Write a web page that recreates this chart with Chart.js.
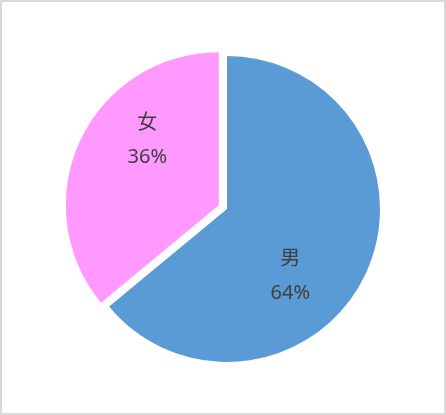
<!DOCTYPE html>
<html>
<head>
<meta charset="utf-8">
<script src="https://cdn.jsdelivr.net/npm/chart.js@4"></script>
<style>
  html, body { margin: 0; padding: 0; background: #fff; }
  #wrap { position: relative; width: 446px; height: 415px; }
  #frame { position: absolute; left: 0; top: 0; right: 0; bottom: 0; border: 2px solid #d9d9d9; pointer-events: none; }
</style>
</head>
<body>
<div id="wrap">
  <canvas id="pieChart" width="446" height="415"></canvas>
  <div id="frame"></div>
</div>
<script>
// data
const labels = ['男', '女'];
const values = [64, 36];
const colors = ['#5B9BD5', '#FF99FF'];

// pulls one slice out along its mid angle, keeping its radius
const explodePlugin = {
    id: 'explode',
    afterDatasetUpdate(chart, args, opts) {
        const arc = chart.getDatasetMeta(args.index).data[opts.index];
        if (!arc) return;
        const mid = (arc.startAngle + arc.endAngle) / 2;
        arc.x += Math.cos(mid) * opts.distance;
        arc.y += Math.sin(mid) * opts.distance;
    }
};

// two-line label (name + percent) inside each slice
const sliceLabels = {
    id: 'sliceLabels',
    afterDatasetsDraw(chart, args, opts) {
        const ctx = chart.ctx;
        const data = chart.data.datasets[0].data;
        const total = data.reduce((a, b) => a + b, 0);
        chart.getDatasetMeta(0).data.forEach((arc, i) => {
            const p = opts.pos[i];
            const a = arc.startAngle + (arc.endAngle - arc.startAngle) * p.t;
            const x = arc.x + Math.cos(a) * arc.outerRadius * p.f;
            const y = arc.y + Math.sin(a) * arc.outerRadius * p.f + 3;
            ctx.save();
            ctx.fillStyle = '#404040';
            ctx.font = '20px "Noto Sans", "Noto Sans CJK JP", sans-serif';
            ctx.textAlign = 'center';
            ctx.textBaseline = 'middle';
            ctx.fillText(chart.data.labels[i], x, y - 17);
            ctx.fillText(Math.round(data[i] / total * 100) + '%', x, y + 17);
            ctx.restore();
        });
    }
};

const ctx = document.getElementById('pieChart').getContext('2d');
new Chart(ctx, {
    type: 'pie',
    data: {
        labels: labels,
        datasets: [{
            data: values,
            backgroundColor: colors,
            borderWidth: 0
        }]
    },
    options: {
        responsive: false,
        animation: false,
        radius: 153,
        layout: {
            padding: { left: 40, right: 32, top: 30, bottom: 27 }
        },
        plugins: {
            legend: { display: false },
            tooltip: { enabled: false },
            explode: { index: 1, distance: 9 },
            sliceLabels: {
                pos: [{ t: 0.588, f: 0.59 }, { t: 0.64, f: 0.643 }]
            }
        }
    },
    plugins: [explodePlugin, sliceLabels]
});
</script>
</body>
</html>
